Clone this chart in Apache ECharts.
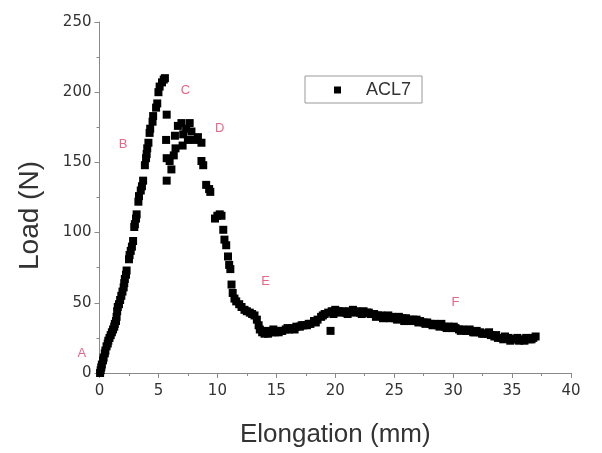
<!DOCTYPE html>
<html>
<head>
<meta charset="utf-8">
<script src="https://cdn.jsdelivr.net/npm/echarts@6/dist/echarts.min.js"></script>
<style>
  html, body { margin: 0; padding: 0; background: #fff; }
  #chart { width: 602px; height: 453px; }
</style>
</head>
<body>
<div id="chart"></div>
<script>
// Tensile test of specimen ACL7: load against elongation
const seriesName = 'ACL7';

const elongation = [
  0.05, 0.1, 0.15, 0.2, 0.3, 0.35, 0.45, 0.5, 0.6, 0.7, 0.75, 0.85, 0.95, 1.05, 1.15, 1.25, 1.3, 1.4, 1.45, 1.5,
  1.55, 1.65, 1.75, 1.85, 1.95, 2.05, 2.1, 2.15, 2.25, 2.3, 2.5, 2.55, 2.65, 2.75, 2.85, 2.95, 3.0, 3.1, 3.15, 3.3,
  3.35, 3.5, 3.6, 3.7, 3.85, 3.95, 4.0, 4.05, 4.15, 4.25, 4.3, 4.5, 4.55, 4.8, 4.9, 5.0, 5.1, 5.3, 5.45, 5.55,
  5.7, 5.65, 5.7, 5.7, 5.95, 6.1, 6.3, 6.45, 6.4, 6.65, 6.95, 7.1, 7.05, 7.35, 7.5, 7.65, 7.8, 8.1, 8.35, 8.65,
  8.65, 8.8, 9.05, 9.3, 9.4, 9.8, 10.0, 10.2, 10.35, 10.5, 10.6, 10.75, 10.9, 11.0, 11.1, 11.2, 11.3, 11.45, 11.6, 11.85,
  12.05, 12.3, 12.5, 12.75, 12.95, 13.15, 13.35, 13.5, 13.6, 13.8, 14.0, 14.3, 14.6, 14.9, 15.2, 15.5, 15.8, 16.1, 16.4, 16.7,
  17.0, 17.3, 17.6, 17.9, 18.2, 18.5, 18.8, 19.1, 19.6, 19.4, 19.7, 20.0, 20.3, 20.6, 20.9, 21.2, 21.5, 21.8, 22.1, 22.4,
  22.7, 23.0, 23.3, 23.6, 23.9, 24.2, 24.5, 24.8, 25.1, 25.4, 25.7, 26.0, 26.3, 26.6, 26.9, 27.2, 27.5, 27.8, 28.1, 28.4,
  28.7, 29.0, 29.3, 29.6, 29.9, 30.2, 30.5, 30.8, 31.1, 31.4, 31.7, 32.0, 32.3, 32.6, 32.9, 33.2, 33.5, 33.8, 34.1, 34.4,
  34.7, 35.0, 35.3, 35.6, 35.9, 36.2, 36.5, 36.8, 37.0,
  // second pass through the plateau, slightly offset readings
  14.15, 14.75, 15.35, 15.95, 16.55, 17.15, 17.75, 18.35, 18.95, 19.85, 20.45, 21.05, 21.65, 22.25, 22.85, 23.45, 24.05, 24.65,
  25.25, 25.85, 26.45, 27.05, 27.65, 28.25, 28.85, 29.45, 30.05, 30.65, 31.25, 31.85, 32.45, 33.05, 33.65, 34.25, 34.85, 35.45, 36.05, 36.65
];

const load = [
  0, 2, 4, 6, 9, 11, 14, 16, 19, 21, 23, 25, 27, 29, 31, 33, 35, 37, 40, 44,
  47, 49, 52, 55, 58, 61, 64, 67, 70, 73, 81, 84, 87, 90, 94, 104, 106, 110, 113, 122,
  126, 130, 133, 137, 148, 153, 156, 160, 164, 171, 174, 179, 183, 189, 192, 200, 204, 207, 209, 210,
  184, 166, 153, 137, 151, 145, 155, 160, 169, 176, 178, 170, 162, 174, 166, 178, 172, 166, 168, 164,
  151, 148, 134, 131, 129, 110, 112, 113, 112, 102, 95, 91, 83, 77, 74, 63, 57, 53, 51, 49,
  47, 45, 44, 43, 42, 41, 38, 34, 31, 29, 28, 28, 29, 29, 29, 30, 31, 31, 32, 33,
  33, 34, 34, 35, 37, 38, 40, 42, 30, 43, 44, 45, 44, 44, 43, 44, 45, 44, 43, 44,
  43, 42, 42, 41, 41, 40, 41, 40, 39, 40, 39, 39, 38, 38, 38, 37, 36, 36, 35, 35,
  34, 35, 33, 33, 32, 32, 31, 31, 30, 31, 29, 30, 29, 28, 28, 27, 26, 25, 25, 26,
  25, 24, 24, 23, 24, 25, 24, 25, 26,
  30, 31, 30, 32, 31, 34, 35, 36, 41, 42, 43, 42, 43, 42, 43, 40, 39, 39,
  38, 37, 37, 36, 35, 34, 33, 32, 33, 30, 30, 29, 28, 29, 27, 24, 23, 25, 23, 24
];

// Stage markers along the curve
const stageNames = ['A', 'B', 'C', 'D', 'E', 'F'];
const stageX = [-1.5, 2.0, 7.3, 10.2, 14.1, 30.2];
const stageY = [14, 163, 201, 174, 65, 50];

const xTicks = { min: 0, max: 40, interval: 5 };
const yTicks = { min: 0, max: 250, interval: 50 };

const points = elongation.map((x, i) => [x, load[i]]);
const stages = stageNames.map((n, i) => ({ value: [stageX[i], stageY[i]], name: n }));

const axisGray = '#8a8a8a';
const font = 'Liberation Sans, Arial, sans-serif';
const tickFont = 'DejaVu Sans, sans-serif';

const chart = echarts.init(document.getElementById('chart'), null, { renderer: 'canvas' });
chart.setOption({
  animation: false,
  backgroundColor: '#fff',
  grid: { left: 99.5, right: 31, top: 22, bottom: 78, containLabel: false },
  legend: {
    data: [seriesName],
    left: 305, top: 76,
    orient: 'horizontal',
    padding: [5, 11, 4, 29],
    borderColor: '#999', borderWidth: 1,
    itemWidth: 7, itemHeight: 7,
    icon: 'rect',
    textStyle: { fontFamily: font, fontSize: 18, color: '#333', padding: [0, 0, 0, 20] }
  },
  xAxis: {
    type: 'value',
    min: xTicks.min, max: xTicks.max, interval: xTicks.interval,
    name: 'Elongation (mm)', nameLocation: 'middle', nameGap: 49,
    nameTextStyle: { fontFamily: font, fontSize: 26, color: '#333' },
    axisLine: { show: true, onZero: false, lineStyle: { color: axisGray, width: 1 } },
    axisTick: { show: true, inside: false, length: 5, lineStyle: { color: axisGray } },
    minorTick: { show: true, splitNumber: 2, length: 3, lineStyle: { color: axisGray } },
    axisLabel: { fontFamily: tickFont, fontSize: 15, color: '#333', margin: 11 },
    splitLine: { show: false }
  },
  yAxis: {
    type: 'value',
    min: yTicks.min, max: yTicks.max, interval: yTicks.interval,
    name: 'Load (N)', nameLocation: 'middle', nameGap: 55,
    nameTextStyle: { fontFamily: font, fontSize: 28, color: '#333', padding: [0, 36, 0, 0] },
    axisLine: { show: true, onZero: false, lineStyle: { color: axisGray, width: 1 } },
    axisTick: { show: true, inside: false, length: 5, lineStyle: { color: axisGray } },
    minorTick: { show: true, splitNumber: 2, length: 3, lineStyle: { color: axisGray } },
    axisLabel: { fontFamily: tickFont, fontSize: 15, color: '#333', margin: 8 },
    splitLine: { show: false }
  },
  series: [
    {
      name: seriesName,
      type: 'scatter',
      symbol: 'rect',
      symbolSize: 8,
      itemStyle: { color: '#000', opacity: 1 },
      data: points
    },
    {
      name: 'stages',
      type: 'scatter',
      symbol: 'circle',
      symbolSize: 1,
      clip: false,
      silent: true,
      itemStyle: { color: 'rgba(0,0,0,0)' },
      label: {
        show: true, position: 'inside',
        formatter: p => p.name,
        fontFamily: font, fontSize: 13, color: '#e0406a'
      },
      data: stages
    }
  ]
});
</script>
</body>
</html>
